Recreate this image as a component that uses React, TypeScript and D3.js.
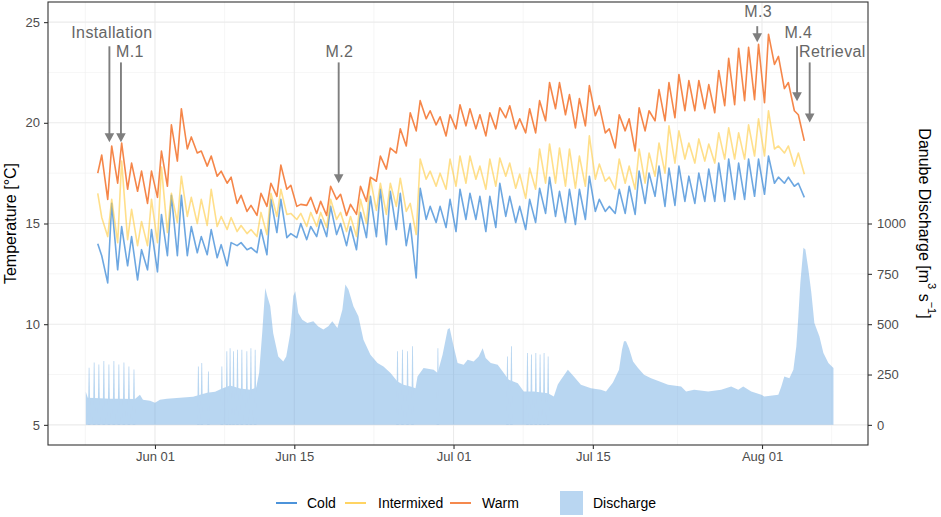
import React, { useRef, useEffect } from "react";
import * as d3 from "d3";

const DAY = 86400000;
const JUN1 = Date.UTC(2021, 5, 1);
const LOG_START = Date.UTC(2021, 4, 26); // first logging day (May 26)
const FONT = "'Liberation Sans', Arial, Helvetica, sans-serif";

// daily minima / maxima (°C), day 0 = May 26
const warmLow = [17.5, 16.2, 17.0, 16.7, 16.6, 16.0, 16.3, 16.85, 18.1, 18.7, 18.5, 17.85, 17.35, 17.0, 16.0, 15.6, 15.4, 15.85, 16.35, 16.7, 15.85, 15.9, 15.5, 15.4, 16.2, 15.4, 15.45, 16.1, 17.1, 17.7, 18.5, 18.85, 19.6, 20.2, 19.9, 19.35, 19.7, 19.85, 19.7, 19.35, 19.7, 20.25, 19.7, 19.5, 19.5, 20.1, 20.7, 20.4, 19.75, 19.85, 20.35, 19.5, 18.75, 19.6, 18.6, 19.6, 20.1, 20.1, 20.25, 20.6, 20.6, 20.7, 20.5, 20.85, 20.9, 21.1, 21.15, 21.0, 22.9, 21.7, 20.6, 19.1];
const warmHigh = [18.4, 18.85, 19.0, 18.0, 17.6, 17.6, 18.6, 19.9, 20.7, 19.3, 18.6, 18.35, 17.6, 17.3, 16.4, 15.9, 16.5, 17.0, 17.9, 16.9, 15.95, 16.3, 16.1, 16.85, 16.45, 15.95, 16.85, 17.3, 18.35, 18.75, 19.7, 20.5, 21.1, 20.6, 20.3, 20.4, 20.9, 20.7, 20.4, 20.5, 20.75, 20.85, 20.2, 20.7, 21.1, 22.0, 22.0, 21.4, 21.2, 21.85, 20.85, 19.7, 20.4, 20.2, 20.75, 20.6, 21.65, 22.0, 22.4, 22.1, 22.1, 21.9, 22.6, 23.2, 23.7, 23.75, 23.9, 24.4, 23.3, 22.0, 20.4];

const mixedLow = [16.5, 14.35, 14.05, 14.2, 13.9, 13.9, 14.05, 14.55, 15.05, 15.35, 15.0, 14.9, 14.85, 14.7, 14.6, 14.5, 14.35, 14.45, 15.35, 15.45, 15.2, 14.85, 14.85, 14.8, 15.2, 14.6, 14.35, 15.0, 15.65, 15.45, 15.85, 15.6, 14.45, 17.2, 16.85, 16.7, 16.85, 17.0, 17.2, 16.7, 16.85, 17.35, 16.75, 16.25, 16.7, 17.0, 17.0, 16.85, 16.75, 16.85, 17.2, 17.1, 16.7, 17.0, 16.7, 17.0, 17.35, 17.5, 18.0, 18.2, 18.0, 18.1, 18.0, 18.2, 18.2, 18.2, 18.35, 18.35, 18.7, 18.5, 17.85, 17.45];
const mixedHigh = [15.3, 16.2, 18.1, 15.7, 15.1, 16.2, 17.8, 16.5, 17.35, 16.3, 16.2, 16.7, 15.35, 15.3, 14.9, 14.7, 15.55, 16.5, 16.7, 15.5, 15.5, 15.55, 15.55, 16.2, 15.55, 15.35, 16.2, 17.2, 17.0, 17.0, 17.25, 16.0, 18.2, 17.6, 17.5, 18.2, 18.35, 18.35, 17.85, 18.2, 18.25, 18.0, 17.45, 17.75, 18.7, 18.95, 18.75, 18.7, 18.35, 19.35, 17.95, 17.3, 18.2, 17.85, 18.7, 18.5, 19.0, 19.85, 19.6, 19.0, 19.2, 18.95, 19.5, 19.75, 19.5, 19.9, 20.2, 20.6, 18.85, 18.85, 18.5];

const coldLow = [14.0, 12.05, 12.7, 12.9, 12.2, 12.7, 12.6, 13.4, 13.4, 13.4, 13.55, 13.45, 13.3, 12.9, 13.9, 13.7, 13.55, 13.45, 14.55, 14.3, 14.3, 14.2, 14.35, 14.35, 14.45, 13.9, 13.7, 14.3, 14.35, 13.95, 14.7, 13.9, 12.3, 15.2, 15.05, 14.8, 14.6, 15.2, 15.2, 14.6, 14.8, 15.35, 15.05, 14.7, 15.05, 15.5, 15.35, 15.05, 14.95, 15.2, 15.6, 15.6, 15.5, 15.5, 15.45, 16.0, 16.35, 15.85, 15.9, 16.1, 16.0, 16.1, 16.1, 16.1, 16.2, 16.2, 16.35, 16.45, 17.0, 17.0, 16.85, 16.3];
const coldHigh = [13.4, 16.0, 14.85, 14.35, 13.7, 14.7, 15.45, 16.4, 16.4, 14.85, 14.35, 14.7, 13.95, 14.05, 14.05, 13.8, 14.7, 16.2, 16.2, 14.5, 15.0, 14.85, 15.2, 15.85, 15.0, 14.85, 15.55, 16.35, 16.7, 16.6, 16.5, 15.0, 16.75, 15.85, 15.85, 16.2, 16.7, 16.5, 16.35, 16.35, 17.0, 16.35, 15.85, 16.2, 16.75, 17.3, 16.6, 16.7, 16.7, 17.35, 16.2, 15.85, 16.7, 16.85, 17.6, 17.5, 17.85, 17.75, 17.85, 17.35, 17.5, 17.7, 18.0, 18.2, 18.0, 18.2, 18.2, 18.35, 17.3, 17.3, 17.0];

// Danube discharge (m3/s), days relative to Jun 01
const dischargeDays = [-6.95, -6.75, -5.54, -4.53, -3.52, -2.01, -1.51, -1.21, -0.5, 0, 0.5, 1.21, 2.52, 3.83, 4.53, 5.24, 6.04, 6.75, 7.55, 8.56, 9.57, 10.17, 10.47, 10.78, 11.08, 11.28, 11.58, 11.88, 12.39, 12.89, 13.19, 13.6, 13.9, 14.1, 14.4, 14.8, 15.31, 15.91, 16.41, 16.92, 17.42, 17.82, 18.33, 18.83, 19.13, 19.44, 19.94, 20.44, 20.95, 21.65, 22.36, 22.96, 23.67, 24.37, 24.97, 25.68, 26.18, 26.38, 26.99, 28.0, 28.4, 28.9, 29.41, 29.61, 30.01, 30.41, 31.02, 31.42, 32.02, 32.53, 32.93, 33.23, 33.74, 34.44, 35.05, 35.55, 36.46, 37.06, 38.07, 39.48, 40.08, 40.48, 40.79, 41.49, 42.09, 42.8, 43.81, 44.81, 45.32, 46.02, 46.63, 46.93, 47.13, 47.33, 47.63, 48.04, 48.54, 49.14, 49.85, 50.65, 51.56, 52.87, 53.37, 54.18, 55.59, 56.9, 57.9, 58.61, 59.11, 59.92, 60.93, 61.23, 62.64, 62.94, 63.24, 63.75, 64.15, 64.45, 64.65, 64.85, 65.16, 65.36, 65.66, 65.96, 66.26, 66.77, 67.17, 67.67, 68.18];
const dischargeValues = [165, 135, 132, 130, 130, 128, 150, 125, 120, 110, 125, 130, 135, 140, 150, 160, 165, 180, 195, 180, 175, 185, 260, 460, 680, 640, 590, 455, 340, 315, 340, 456, 640, 663, 556, 522, 506, 514, 489, 473, 490, 514, 481, 572, 697, 672, 589, 539, 423, 348, 307, 290, 257, 215, 199, 190, 182, 240, 282, 274, 257, 348, 473, 481, 390, 307, 299, 323, 315, 340, 381, 332, 307, 299, 257, 224, 207, 166, 166, 157, 141, 200, 224, 274, 240, 199, 182, 174, 166, 210, 274, 373, 415, 415, 381, 315, 282, 249, 232, 216, 199, 190, 166, 174, 166, 174, 190, 174, 190, 166, 149, 141, 149, 190, 240, 232, 274, 390, 539, 705, 879, 871, 771, 655, 506, 439, 357, 307, 282];
// short single-sample spikes in the gauge record
const spikeDays = [-6.62, -6.11, -5.64, -5.14, -4.63, -4.13, -3.63, -3.12, -2.62, -2.11, 4.36, 4.7, 5.37, 6.72, 7.22, 7.55, 7.89, 8.29, 8.73, 9.23, 9.64, 10.07, 24.37, 24.87, 25.38, 25.88, 28.43, 35.42, 35.82, 37.43, 37.83, 38.27, 38.7, 39.1, 39.51];
const spikeValues = [284, 310, 300, 317, 300, 317, 300, 310, 290, 275, 290, 307, 265, 290, 365, 381, 365, 373, 373, 365, 381, 373, 365, 373, 365, 390, 381, 340, 390, 357, 350, 357, 350, 357, 340];

const xTickDates = ["2021-06-01", "2021-06-15", "2021-07-01", "2021-07-15", "2021-08-01"];
const xTickLabels = ["Jun 01", "Jun 15", "Jul 01", "Jul 15", "Aug 01"];
const xMinorDates = ["2021-05-25", "2021-06-08", "2021-06-23", "2021-07-08", "2021-07-23T12:00:00Z", "2021-08-08"];
const tempTicks = [5, 10, 15, 20, 25];
const tempMinor = [7.5, 12.5, 17.5, 22.5];
const dischargeTicks = [0, 250, 500, 750, 1000];

const annotLabels = ["Installation", "M.1", "M.2", "M.3", "M.4", "Retrieval"];
const annotArrowDays = [-4.58, -3.42, 18.46, 60.52, 64.52, 65.79];
const annotTextDays = [-4.33, -2.52, 18.53, 60.62, 64.65, 68.08];
const annotTextTemp = [24.5, 23.56, 23.56, 25.55, 24.5, 23.56];
const annotFromTemp = [23.8, 23.0, 23.0, 24.8, 23.8, 23.0];
const annotToTemp = [19.03, 19.03, 17.0, 24.0, 21.07, 20.02];

const seriesNames = ["Cold", "Intermixed", "Warm"];
const lineColors = ["#1F78D1", "#FFC93C", "#F36B21"];
const lineOpacity = [0.65, 0.6, 0.82];
const dischargeColor = "rgb(100,165,225)";

function buildSeries(lows: number[], highs: number[]) {
  const pts: [number, number][] = [];
  lows.forEach((lo, i) => {
    pts.push([LOG_START + (i + 0.25) * DAY, lo]);
    if (i < highs.length) pts.push([LOG_START + (i + 0.65) * DAY, highs[i]]);
  });
  return pts;
}

export default function App() {
  const svgRef = useRef<SVGSVGElement>(null);

  useEffect(() => {
    const svg = d3.select(svgRef.current);
    svg.selectAll("*").remove();
    const left = 48, right = 868, top = 2, bottom = 445;

    const x = d3.scaleUtc()
      .domain([new Date(JUN1 - 10.75 * DAY), new Date(JUN1 + 71.65 * DAY)])
      .range([left, right]);
    const yT = d3.scaleLinear().domain([4, 26]).range([bottom, top]);
    const yQ = d3.scaleLinear().domain([-100, 2100]).range([bottom, top]);

    // grid
    const grid = svg.append("g");
    grid.selectAll(".hmin").data(tempMinor).join("line")
      .attr("x1", left).attr("x2", right).attr("y1", d => yT(d)).attr("y2", d => yT(d))
      .attr("stroke", "#F0F0F0").attr("stroke-width", 0.6);
    grid.selectAll(".vmin").data(xMinorDates).join("line")
      .attr("x1", d => x(new Date(d))).attr("x2", d => x(new Date(d))).attr("y1", top).attr("y2", bottom)
      .attr("stroke", "#F0F0F0").attr("stroke-width", 0.6);
    grid.selectAll(".hmaj").data(tempTicks).join("line")
      .attr("x1", left).attr("x2", right).attr("y1", d => yT(d)).attr("y2", d => yT(d))
      .attr("stroke", "#EBEBEB").attr("stroke-width", 1.1);
    grid.selectAll(".vmaj").data(xTickDates).join("line")
      .attr("x1", d => x(new Date(d))).attr("x2", d => x(new Date(d))).attr("y1", top).attr("y2", bottom)
      .attr("stroke", "#EBEBEB").attr("stroke-width", 1.1);

    // discharge area (+ spikes) in one translucent group
    const dis = dischargeDays.map((d, i) => [JUN1 + d * DAY, dischargeValues[i]] as [number, number]);
    const area = d3.area<[number, number]>()
      .x(d => x(d[0])).y0(yQ(0)).y1(d => yQ(d[1]));
    const dg = svg.append("g").attr("opacity", 0.45);
    dg.append("path").attr("d", area(dis)).attr("fill", dischargeColor);
    dg.selectAll(".spike").data(spikeDays).join("path")
      .attr("d", (d, i) => {
        const sx = x(JUN1 + d * DAY);
        return `M${sx - 1.3},${yQ(0)}L${sx - 0.4},${yQ(spikeValues[i])}L${sx + 0.4},${yQ(spikeValues[i])}L${sx + 1.3},${yQ(0)}Z`;
      })
      .attr("fill", dischargeColor);

    // temperature lines
    const line = d3.line<[number, number]>().x(d => x(d[0])).y(d => yT(d[1]));
    const series = [buildSeries(coldLow, coldHigh), buildSeries(mixedLow, mixedHigh), buildSeries(warmLow, warmHigh)];
    series.forEach((s, k) => {
      svg.append("path").attr("d", line(s)).attr("fill", "none")
        .attr("stroke", lineColors[k]).attr("stroke-opacity", lineOpacity[k])
        .attr("stroke-width", 1.6).attr("stroke-linejoin", "round");
    });

    // annotations
    const ann = svg.append("g");
    annotLabels.forEach((lab, i) => {
      const ax = x(JUN1 + annotArrowDays[i] * DAY);
      const tip = yT(annotToTemp[i]);
      ann.append("line").attr("x1", ax).attr("x2", ax)
        .attr("y1", yT(annotFromTemp[i])).attr("y2", tip - 7)
        .attr("stroke", "#7F7F7F").attr("stroke-width", 1.9);
      ann.append("path").attr("d", `M${ax - 4.8},${tip - 9}L${ax + 4.8},${tip - 9}L${ax},${tip}Z`)
        .attr("fill", "#7F7F7F");
      ann.append("text").attr("x", x(JUN1 + annotTextDays[i] * DAY)).attr("y", yT(annotTextTemp[i]))
        .attr("text-anchor", "middle").attr("dominant-baseline", "central")
        .attr("font-size", 16).attr("letter-spacing", 0.4).attr("fill", "#666666").text(lab);
    });

    // panel border
    svg.append("rect").attr("x", left).attr("y", top).attr("width", right - left).attr("height", bottom - top)
      .attr("fill", "none").attr("stroke", "#333333").attr("stroke-width", 1.1);

    // axes
    const styleAxis = (g: any) => {
      g.attr("font-family", FONT).attr("font-size", 13);
      g.select(".domain").remove();
      g.selectAll(".tick line").attr("stroke", "#333333").attr("stroke-width", 1.1);
      g.selectAll(".tick text").attr("fill", "#4D4D4D");
    };
    svg.append("g").attr("transform", `translate(${left},0)`)
      .call(d3.axisLeft(yT).tickValues(tempTicks).tickSize(4).tickPadding(4))
      .call(styleAxis);
    svg.append("g").attr("transform", `translate(${right},0)`)
      .call(d3.axisRight(yQ).tickValues(dischargeTicks).tickFormat(d3.format("d")).tickSize(4).tickPadding(5))
      .call(styleAxis);
    svg.append("g").attr("transform", `translate(0,${bottom})`)
      .call(d3.axisBottom(x).tickValues(xTickDates.map(d => new Date(d)))
        .tickFormat((d: any, i: number) => xTickLabels[i]).tickSize(4).tickPadding(3))
      .call(styleAxis);

    // axis titles
    svg.append("text").attr("transform", `translate(10,${(top + bottom) / 2}) rotate(-90)`)
      .attr("text-anchor", "middle").attr("dominant-baseline", "central")
      .attr("font-family", FONT).attr("font-size", 16).attr("fill", "#000").text("Temperature [°C]");
    const rt = svg.append("text").attr("transform", `translate(925,${(top + bottom) / 2}) rotate(90)`)
      .attr("text-anchor", "middle").attr("dominant-baseline", "central")
      .attr("font-family", FONT).attr("font-size", 16).attr("fill", "#000");
    rt.append("tspan").text("Danube Discharge [m");
    rt.append("tspan").attr("font-size", 11).attr("dy", -7).text("3");
    rt.append("tspan").attr("dy", 7).text(" s");
    rt.append("tspan").attr("font-size", 11).attr("dy", -7).text("\u22121");
    rt.append("tspan").attr("dy", 7).text("]");

    // legend
    const lg = svg.append("g").attr("font-family", FONT).attr("font-size", 14);
    const keyX = [276, 345, 450];
    const labX = [307, 378, 482];
    seriesNames.forEach((n, k) => {
      lg.append("line").attr("x1", keyX[k]).attr("x2", keyX[k] + 21).attr("y1", 503).attr("y2", 503)
        .attr("stroke", lineColors[k]).attr("stroke-width", 1.6);
      lg.append("text").attr("x", labX[k]).attr("y", 503).attr("dominant-baseline", "central")
        .attr("fill", "#000").text(n);
    });
    lg.append("rect").attr("x", 560).attr("y", 491).attr("width", 23).attr("height", 24)
      .attr("fill", dischargeColor).attr("opacity", 0.45);
    lg.append("text").attr("x", 593).attr("y", 503).attr("dominant-baseline", "central")
      .attr("fill", "#000").text("Discharge");
  }, []);

  return (
    <svg
      ref={svgRef}
      width={941}
      height={517}
      style={{ position: "absolute", left: 0, top: 0, background: "#fff" }}
      fontFamily={FONT}
    />
  );
}
